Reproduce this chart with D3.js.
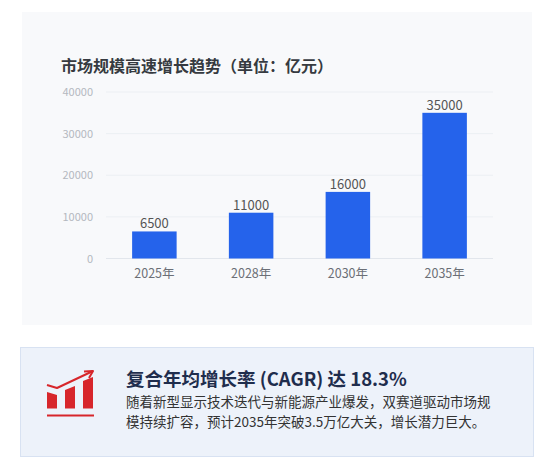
<!DOCTYPE html>
<html><head><meta charset="utf-8">
<script src="https://cdn.jsdelivr.net/npm/d3@7"></script>
<style>
html,body{margin:0;padding:0;background:#fff;}
svg{display:block;font-family:"Noto Sans CJK SC","Noto Sans",sans-serif;}
</style></head>
<body><svg id="c" width="542" height="470"></svg>
<script>
const categories = ["2025年","2028年","2030年","2035年"];
const values = [6500, 11000, 16000, 35000];
const yTicks = [0, 10000, 20000, 30000, 40000];
const titleText = "市场规模高速增长趋势（单位：亿元）";
const headline = "复合年均增长率 (CAGR) 达 18.3%";
const bodyLines = ["随着新型显示技术迭代与新能源产业爆发，双赛道驱动市场规","模持续扩容，预计2035年突破3.5万亿大关，增长潜力巨大。"];

const svg = d3.select("#c");
// card
svg.append("rect").attr("x",22).attr("y",12).attr("width",510).attr("height",313).attr("fill","#f8f9fb");
svg.append("text").attr("x",61).attr("y",71.5).attr("font-size",16).attr("font-weight",700).attr("fill","#363a40").text(titleText);

const x = d3.scaleBand().domain(categories).range([106,493]).padding(0);
const y = d3.scaleLinear().domain([0,40000]).range([258.5,92]);

// grid
const g = svg.append("g");
g.selectAll("line.grid").data(yTicks).join("line")
  .attr("x1",106).attr("x2",493).attr("y1",d=>y(d)).attr("y2",d=>y(d))
  .attr("stroke", d=> d===0 ? "#e2e6ec" : "#eceff3").attr("stroke-width",1);
// y axis labels
const yAxis = d3.axisLeft(y).tickValues(yTicks).tickSize(0).tickPadding(0).tickFormat(d3.format("d"));
const ya = svg.append("g").attr("transform","translate(93,0)").call(yAxis);
ya.select(".domain").remove();
ya.selectAll("text").attr("font-size",11).attr("fill","#b4b8bf").attr("font-family",'"Noto Sans CJK SC","Noto Sans",sans-serif');

// bars
const bw = x.bandwidth()*0.46;
svg.selectAll("rect.bar").data(values).join("rect").attr("class","bar")
  .attr("x",(d,i)=>x(categories[i])+x.bandwidth()/2-bw/2)
  .attr("width",bw)
  .attr("y",d=>y(d)).attr("height",d=>y(0)-y(d))
  .attr("fill","#2563eb");
svg.selectAll("text.val").data(values).join("text").attr("class","val")
  .attr("x",(d,i)=>x(categories[i])+x.bandwidth()/2)
  .attr("y",d=>y(d)-3)
  .attr("text-anchor","middle").attr("font-size",13).attr("fill","#555").text(d=>d);

// x axis
const xAxis = d3.axisBottom(x).tickSize(0).tickPadding(0);
const xa = svg.append("g").attr("transform","translate(0,269)").call(xAxis);
xa.select(".domain").remove();
xa.selectAll("text").attr("font-size",12.5).attr("fill","#6b6f76").attr("dy","0.71em").attr("font-family",'"Noto Sans CJK SC","Noto Sans",sans-serif');

// bottom box
svg.append("rect").attr("x",20.5).attr("y",347.5).attr("width",513).attr("height",109).attr("fill","#edf2fa").attr("stroke","#d8e2f2").attr("stroke-width",1);

// icon
const red = "#d7262b";
const ic = svg.append("g");
ic.append("polygon").attr("points","47,392 57,395 57,408.5 47,408.5").attr("fill",red);
ic.append("polygon").attr("points","65,390 75,386 75,408.5 65,408.5").attr("fill",red);
ic.append("polygon").attr("points","83,381 93,377 93,408.5 83,408.5").attr("fill",red);
ic.append("line").attr("x1",47).attr("x2",94).attr("y1",415.5).attr("y2",415.5).attr("stroke",red).attr("stroke-width",2);
ic.append("polyline").attr("points","47,385 57,388 93,371").attr("fill","none").attr("stroke",red).attr("stroke-width",2).attr("stroke-linejoin","round");
ic.append("polyline").attr("points","84,371.5 93,371 89,378").attr("fill","none").attr("stroke",red).attr("stroke-width",2).attr("stroke-linejoin","round");

svg.append("text").attr("x",126).attr("y",386).attr("font-size",18.5).attr("font-weight",700).attr("fill","#1f2d4d").text(headline);
svg.selectAll("text.body").data(bodyLines).join("text").attr("class","body")
  .attr("x",126).attr("y",(d,i)=>407+i*19.6).attr("font-size",13.5).attr("fill","#333").text(d=>d);
</script></body></html>
